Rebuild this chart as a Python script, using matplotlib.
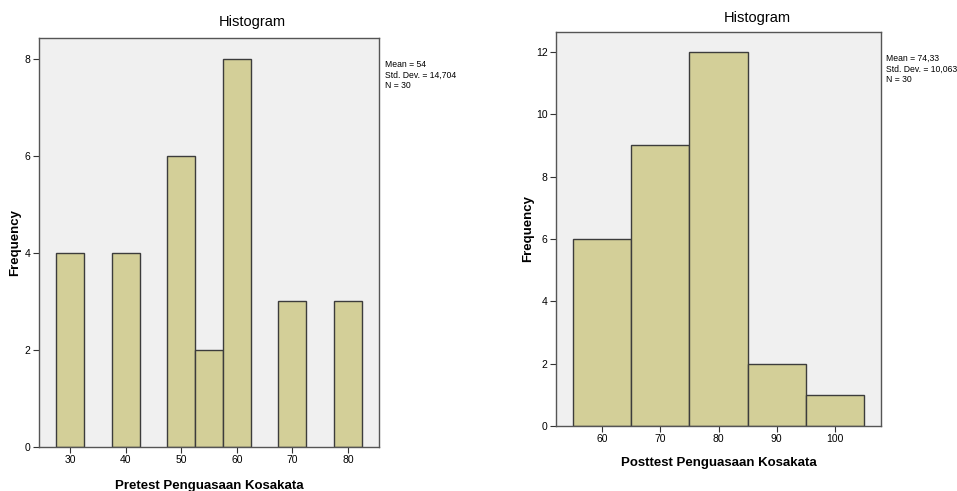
import matplotlib.pyplot as plt

plt.rcParams['font.family'] = ['Liberation Sans', 'DejaVu Sans']

# pretest
pre_values = [30, 40, 50, 55, 60, 70, 80]
pre_counts = [4, 4, 6, 2, 8, 3, 3]
pre_width = 5
pre_xticks = [30, 40, 50, 60, 70, 80]
pre_yticks = [0, 2, 4, 6, 8]
pre_stats = 'Mean = 54\nStd. Dev. = 14,704\nN = 30'

# posttest
post_values = [60, 70, 80, 90, 100]
post_counts = [6, 9, 12, 2, 1]
post_width = 10
post_xticks = [60, 70, 80, 90, 100]
post_yticks = [0, 2, 4, 6, 8, 10, 12]
post_stats = 'Mean = 74,33\nStd. Dev. = 10,063\nN = 30'

bar_color = '#d3cf98'
edge_color = '#3c3c3c'
bg_color = '#f0f0f0'

fig = plt.figure(figsize=(9.57, 4.91), dpi=100)
W, H = 957, 491


def panel(box, values, counts, width, xticks, yticks, xlim, ylim, xlabel, stats,
          title_x, title_y, ylab_x, xlab_y, stats_x, stats_y):
    l, t, r, b = box
    ax = fig.add_axes([l / W, 1 - b / H, (r - l) / W, (b - t) / H])
    ax.set_facecolor(bg_color)
    ax.bar(values, counts, width=width, color=bar_color, edgecolor=edge_color, linewidth=1.0)
    ax.set_xlim(*xlim)
    ax.set_ylim(*ylim)
    ax.set_xticks(xticks)
    ax.set_yticks(yticks)
    ax.tick_params(labelsize=7.5, length=4, width=0.8, color='#333333', pad=2)
    for s in ax.spines.values():
        s.set_color('#555555')
        s.set_linewidth(1.0)
    cx = (l + r) / 2
    fig.text(title_x / W, 1 - title_y / H, 'Histogram', ha='center', va='center', fontsize=10.5)
    fig.text(ylab_x / W, 1 - (t + b) / 2 / H, 'Frequency', rotation=90, ha='center', va='center',
             fontsize=9.5, fontweight='bold')
    fig.text(cx / W, 1 - xlab_y / H, xlabel, ha='center', va='center', fontsize=9.5, fontweight='bold')
    fig.text(stats_x / W, 1 - stats_y / H, stats, ha='left', va='top', fontsize=6.2, linespacing=1.25)
    return ax


panel((39, 38, 379, 447), pre_values, pre_counts, pre_width, pre_xticks, pre_yticks,
      (24.4, 85.6), (0, 8.43), 'Pretest Penguasaan Kosakata', pre_stats,
      252, 22, 15, 486, 385, 60)
panel((556, 32, 881, 426), post_values, post_counts, post_width, post_xticks, post_yticks,
      (52.1, 107.9), (0, 12.64), 'Posttest Penguasaan Kosakata', post_stats,
      757, 18, 528, 463, 886, 54)

fig.savefig('out.png', dpi=100)
